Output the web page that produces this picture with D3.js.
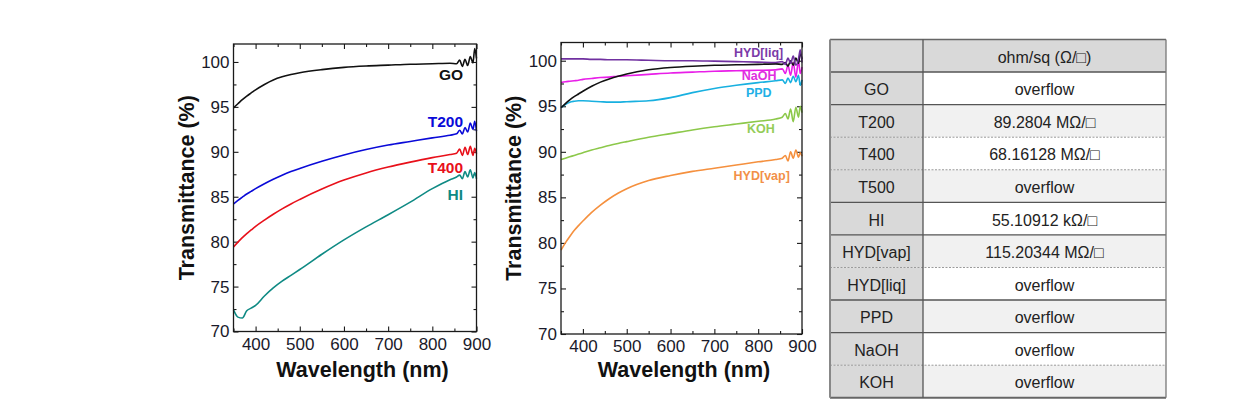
<!DOCTYPE html>
<html><head><meta charset="utf-8">
<script src="https://cdn.jsdelivr.net/npm/d3@7"></script>
<style>
body{margin:0;background:#fff;}
svg{display:block;font-family:"Liberation Sans",Arial,sans-serif;}
</style>
</head><body>
<svg id="c" width="1246" height="416"></svg>
<script>
// ---------- data ----------
const wavelength = [350,360,370,380,390,400,420,440,460,480,500,550,600,650,700,750,800,840,855,862,868,874,880,886,892,896,900];

// left panel
const goLeft = [94.9,95.35,95.8,96.2,96.55,96.9,97.5,98.0,98.35,98.6,98.8,99.15,99.4,99.55,99.65,99.75,99.8,99.85,99.8,100.2,99.5,100.3,99.6,100.6,99.9,101.5,100.4];
const t200   = [84.2,84.6,84.95,85.3,85.6,85.9,86.45,86.95,87.4,87.8,88.15,88.95,89.65,90.25,90.75,91.15,91.55,91.85,92.0,92.4,92.0,92.7,92.2,93.2,92.5,93.4,92.3];
const t400   = [79.4,79.95,80.45,80.9,81.3,81.7,82.4,83.05,83.65,84.2,84.7,85.85,86.85,87.65,88.3,88.85,89.35,89.7,89.85,90.3,89.6,90.5,89.7,90.6,89.6,90.4,89.8];
const hiVals = [72.4,71.6,71.5,72.3,72.6,72.9,73.95,74.85,75.6,76.25,76.9,78.6,80.2,81.65,83.0,84.4,85.9,86.9,87.2,87.4,87.0,87.8,87.2,88.0,87.1,87.7,87.0];

// right panel
const hydLiq  = [100.2,100.2,100.2,100.2,100.2,100.2,100.15,100.15,100.1,100.1,100.1,100.05,100.0,100.0,99.95,99.9,99.85,99.8,99.9,99.6,100.3,99.7,100.5,99.5,100.2,101.2,99.8];
const goRight = [94.85,95.3,95.7,96.05,96.35,96.65,97.2,97.65,98.0,98.3,98.55,99.0,99.25,99.4,99.5,99.55,99.6,99.65,99.6,99.8,99.4,100.0,99.5,100.3,99.7,100.8,100.2];
const naoh    = [97.6,97.7,97.75,97.8,97.85,97.95,98.05,98.15,98.2,98.3,98.35,98.5,98.65,98.75,98.85,98.9,98.95,99.0,99.1,98.6,99.5,98.4,99.8,98.2,100.0,98.6,99.3];
const ppd     = [94.86,95.2,95.45,95.55,95.6,95.6,95.55,95.5,95.45,95.45,95.5,95.6,95.95,96.5,96.95,97.3,97.6,97.8,97.9,97.5,98.1,97.6,98.3,97.7,98.4,97.3,97.9];
const koh     = [89.15,89.3,89.45,89.6,89.75,89.9,90.2,90.45,90.7,90.92,91.12,91.6,92.0,92.4,92.75,93.05,93.35,93.6,93.8,94.2,93.6,94.7,93.3,94.9,93.8,95.0,94.3];
const hydVap  = [79.2,80.0,80.7,81.35,81.9,82.4,83.35,84.15,84.85,85.45,85.95,86.85,87.4,87.85,88.2,88.55,88.9,89.15,89.3,89.6,89.0,90.0,89.3,90.2,89.4,89.9,89.5];

const xTicks = [400,500,600,700,800,900];
const xMinor = [350,450,550,650,750,850];
const yTicks = [70,75,80,85,90,95,100];
const yMinor = [72.5,77.5,82.5,87.5,92.5,97.5];

// table
const tableHeader = ["", "ohm/sq  (Ω/\u25A1)"];
const tableLabels = ["GO","T200","T400","T500","HI","HYD[vap]","HYD[liq]","PPD","NaOH","KOH"];
const tableValues = ["overflow","89.2804 MΩ/\u25A1","68.16128 MΩ/\u25A1","overflow","55.10912 kΩ/\u25A1","115.20344 MΩ/\u25A1","overflow","overflow","overflow","overflow"];
const tableDashedAfter = ["T200","T400","HYD[vap]","NaOH"];

// ---------- drawing ----------
const svg = d3.select("#c");

function panel(cfg){
  const x = d3.scaleLinear().domain([350,900]).range([cfg.x0,cfg.x1]);
  const y = d3.scaleLinear().domain([70,102]).range([cfg.y1,cfg.y0]);
  const g = svg.append("g");
  const axStyle = sel => { sel.select(".domain").remove(); sel.selectAll("line").attr("stroke","#1a1a1a").attr("stroke-width",1.1); sel.selectAll("text").attr("fill","#1a1a2a").attr("font-size",17).attr("font-family","'Liberation Sans',Arial,sans-serif"); };

  g.append("g").attr("transform",`translate(0,${cfg.y1})`)
    .call(d3.axisBottom(x).tickValues(xTicks).tickSize(-5).tickPadding(6).tickFormat(d3.format("d"))).call(axStyle);
  g.append("g").attr("transform",`translate(0,${cfg.y1})`)
    .call(d3.axisBottom(x).tickValues(xMinor).tickSize(-3).tickFormat("")).call(axStyle);
  g.append("g").attr("transform",`translate(0,${cfg.y0})`)
    .call(d3.axisTop(x).tickValues(xTicks).tickSize(-5).tickFormat("")).call(axStyle);
  g.append("g").attr("transform",`translate(0,${cfg.y0})`)
    .call(d3.axisTop(x).tickValues(xMinor).tickSize(-3).tickFormat("")).call(axStyle);
  g.append("g").attr("transform",`translate(${cfg.x0},0)`)
    .call(d3.axisLeft(y).tickValues(yTicks).tickSize(-5).tickPadding(4)).call(axStyle);
  g.append("g").attr("transform",`translate(${cfg.x0},0)`)
    .call(d3.axisLeft(y).tickValues(yMinor).tickSize(-3).tickFormat("")).call(axStyle);
  g.append("g").attr("transform",`translate(${cfg.x1},0)`)
    .call(d3.axisRight(y).tickValues(yTicks).tickSize(-5).tickFormat("")).call(axStyle);
  g.append("g").attr("transform",`translate(${cfg.x1},0)`)
    .call(d3.axisRight(y).tickValues(yMinor).tickSize(-3).tickFormat("")).call(axStyle);

  const line = d3.line().x((d,i)=>x(wavelength[i])).y(d=>y(d)).curve(d3.curveMonotoneX);
  cfg.series.forEach(s=>{
    g.append("path").datum(s.values).attr("d",line).attr("fill","none")
      .attr("stroke",s.color).attr("stroke-width",1.6).attr("stroke-linejoin","round");
  });
  g.append("rect").attr("x",cfg.x0).attr("y",cfg.y0).attr("width",cfg.x1-cfg.x0).attr("height",cfg.y1-cfg.y0)
    .attr("fill","none").attr("stroke","#1a1a1a").attr("stroke-width",1.3);

  cfg.series.forEach(s=>{
    if(!s.name) return;
    g.append("text").attr("x",x(s.lx)).attr("y",y(s.ly)).attr("text-anchor","end")
      .attr("font-weight","bold").attr("font-size",cfg.labelSize).attr("fill",s.labelColor||s.color).text(s.name);
  });

  g.append("text").attr("x",cfg.xlabX).attr("y",377).attr("text-anchor","middle")
    .attr("font-weight","bold").attr("font-size",21.5).attr("fill","#111").text("Wavelength (nm)");
  g.append("text").attr("transform",`translate(${cfg.ylabX},${(cfg.y0+cfg.y1)/2}) rotate(-90)`)
    .attr("text-anchor","middle").attr("font-weight","bold").attr("font-size",21.5).attr("fill","#111").text("Transmittance (%)");
}

panel({x0:233.5,x1:476.5,y0:44,y1:331.5,xlabX:362.5,ylabX:194,labelSize:15.5,
  series:[
    {name:"GO",values:goLeft,color:"#111111",lx:869.5,ly:98.0},
    {name:"T200",values:t200,color:"#0a0ad8",lx:869.5,ly:92.8},
    {name:"T400",values:t400,color:"#e8101a",lx:869.5,ly:87.6},
    {name:"HI",values:hiVals,color:"#0f8a84",lx:869.5,ly:84.6}
  ]});

panel({x0:561,x1:802,y0:42.5,y1:334,xlabX:684,ylabX:521,labelSize:12.5,
  series:[
    {name:"HYD[liq]",values:hydLiq,color:"#7030a0",labelColor:"#7a3aa8",lx:857.3,ly:100.44},
    {name:"",values:goRight,color:"#111111",lx:0,ly:0},
    {name:"NaOH",values:naoh,color:"#e81ee8",labelColor:"#e030e0",lx:842,ly:97.88},
    {name:"PPD",values:ppd,color:"#18b0e0",labelColor:"#22b0e6",lx:830.6,ly:96.05},
    {name:"KOH",values:koh,color:"#8cc84a",labelColor:"#94cc58",lx:838,ly:92.03},
    {name:"HYD[vap]",values:hydVap,color:"#f5903e",labelColor:"#f29048",lx:872.3,ly:86.9}
  ].reverse()});

// ---------- table ----------
const tx0 = 830, tx1 = 923, tx2 = 1166, ty0 = 39.5, rowH = 32.57;
const rows = [tableHeader].concat(tableLabels.map((l,i)=>[l,tableValues[i]]));
const rowY = d3.scaleLinear().domain([0,rows.length]).range([ty0, ty0+rowH*rows.length]);
const tg = svg.append("g");
rows.forEach((r,i)=>{
  const yTop = rowY(i);
  tg.append("rect").attr("x",tx0).attr("y",yTop).attr("width",tx1-tx0).attr("height",rowH).attr("fill","#d9d9d9");
  tg.append("rect").attr("x",tx1).attr("y",yTop).attr("width",tx2-tx1).attr("height",rowH)
    .attr("fill", i===0 ? "#d9d9d9" : (i%2===0 ? "#f1f1f1" : "#ffffff"));
  tg.append("text").attr("x",(tx0+tx1)/2).attr("y",yTop+rowH/2+7).attr("text-anchor","middle")
    .attr("font-size",16).attr("fill","#222").text(r[0]);
  tg.append("text").attr("x",(tx1+tx2)/2).attr("y",yTop+rowH/2+7).attr("text-anchor","middle")
    .attr("font-size",16).attr("fill","#222").text(r[1]);
});
for(let i=1;i<rows.length;i++){
  const dashed = i>=2 && tableDashedAfter.includes(rows[i-1][0]);
  tg.append("line").attr("x1",tx0).attr("x2",tx2).attr("y1",rowY(i)).attr("y2",rowY(i))
    .attr("stroke",dashed?"#9a9a9a":"#555").attr("stroke-width",dashed?1:1.4)
    .attr("stroke-dasharray",dashed?"2,1.5":null);
}
tg.append("line").attr("x1",tx0).attr("x2",tx2).attr("y1",ty0).attr("y2",ty0).attr("stroke","#666").attr("stroke-width",1.5);
tg.append("line").attr("x1",tx0).attr("x2",tx2).attr("y1",rowY(rows.length)).attr("y2",rowY(rows.length)).attr("stroke","#666").attr("stroke-width",2.2);
tg.append("line").attr("x1",tx0).attr("x2",tx0).attr("y1",ty0).attr("y2",rowY(rows.length)).attr("stroke","#888").attr("stroke-width",2);
tg.append("line").attr("x1",tx1).attr("x2",tx1).attr("y1",ty0).attr("y2",rowY(rows.length)).attr("stroke","#555").attr("stroke-width",1.3);
tg.append("line").attr("x1",tx2).attr("x2",tx2).attr("y1",ty0).attr("y2",rowY(rows.length)).attr("stroke","#777").attr("stroke-width",1.3);
</script>
</body></html>
